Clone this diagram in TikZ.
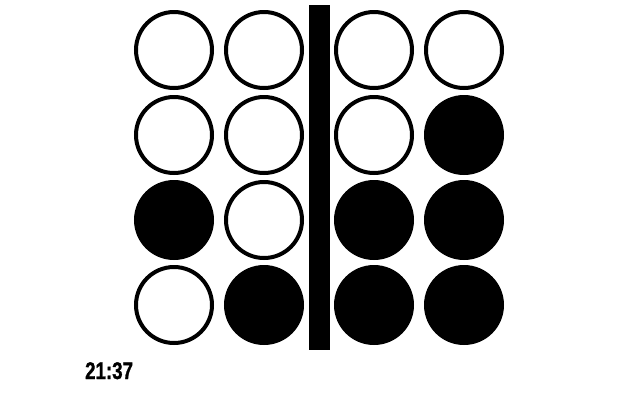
\documentclass[tikz,border=0pt]{standalone}
\usepackage{fontspec}
\newfontfamily\clockfont[FakeBold=1.5]{Liberation Sans}
\begin{document}
\begin{tikzpicture}[x=1pt,y=-1pt,
  led/.style={circle, draw=black, line width=4pt, minimum size=76pt, inner sep=0pt},
  ledon/.style={led, fill=black},
  ledoff/.style={led, fill=white}]
  \useasboundingbox (0,0) rectangle (640,400);
  % Divider between hours and minutes
  \node[fill=black, minimum width=21pt, minimum height=345pt, inner sep=0pt] (divider) at (319.5,177.5) {};
  % LEDs: column, x, digit shown
  \foreach \col/\x/\val in {1/174/2, 2/264/1, 3/374/3, 4/464/7} {
    \foreach \row/\y/\bit in {1/50/8, 2/135/4, 3/220/2, 4/305/1} {
      \pgfmathtruncatemacro{\on}{mod(floor(\val/\bit),2)}
      \ifnum\on=1 \node[ledon] (led-\col-\row) at (\x,\y) {};
      \else \node[ledoff] (led-\col-\row) at (\x,\y) {};
      \fi
    }
  }
  % Time readout
  \node[font=\clockfont\bfseries\fontsize{24}{24}\selectfont, xscale=0.78, anchor=base west, inner sep=0pt] (time) at (85,379) {21:37};
\end{tikzpicture}
\end{document}
